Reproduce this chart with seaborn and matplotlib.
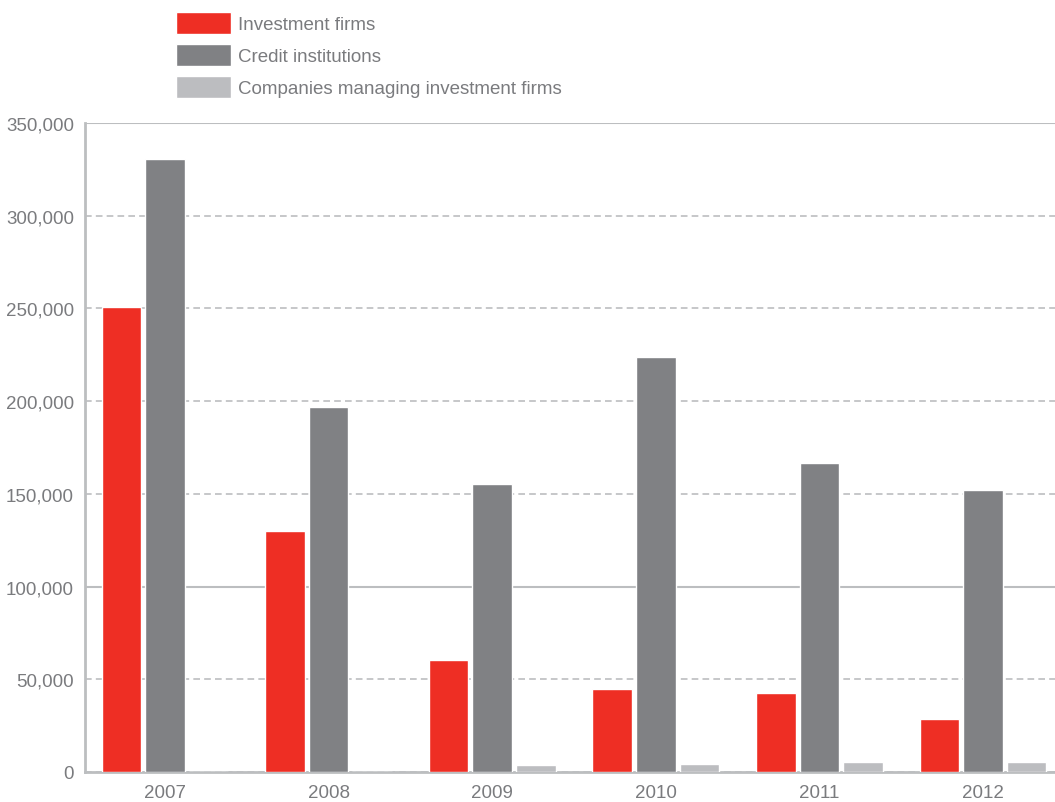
import matplotlib
matplotlib.use('Agg')
import matplotlib.pyplot as plt
import seaborn as sns
import pandas as pd

# values
years = ['2007', '2008', '2009', '2010', '2011', '2012']
investment_firms = [251000, 130000, 60500, 44800, 42600, 28600]
credit_institutions = [330500, 197000, 155300, 223800, 166700, 152100]
managing_companies = [0, 0, 3800, 4300, 5400, 5400]
series_names = ['Investment firms', 'Credit institutions', 'Companies managing investment firms']
colors = ['#ee2e24', '#808184', '#bcbdc0']
yticks = [0, 50000, 100000, 150000, 200000, 250000, 300000, 350000]

df = pd.DataFrame({
    'year': years * 3,
    'value': investment_firms + credit_institutions + managing_companies,
    'series': [s for s in series_names for _ in years],
})

sns.set_style('white')
plt.rcParams['font.family'] = ['Liberation Sans', 'DejaVu Sans']
text_color = '#7a7b7e'
grid_color = '#bcbec0'
fs = 13.5

fig = plt.figure(figsize=(10.55, 8.03), dpi=100)
ax = fig.add_axes([85 / 1055, 1 - 773 / 803, 1 - 85 / 1055, (773 - 124) / 803])

sns.barplot(data=df, x='year', y='value', hue='series', hue_order=series_names,
            palette=dict(zip(series_names, colors)), width=0.8, gap=0.09,
            saturation=1, ax=ax, zorder=3)

ax.set_xlim(-0.489, 5.44)
ax.set_ylim(0, 350000)
ax.set_yticks(yticks)
ax.set_yticklabels([f'{v:,}' for v in yticks])
ax.set_xlabel('')
ax.set_ylabel('')

# horizontal gridlines: dashed, except 100,000 and 350,000 solid
ax.yaxis.grid(True, color=grid_color, linestyle=(0, (4, 2.5)), linewidth=1.2, zorder=0)
ax.set_axisbelow(True)
for tick_val, gl in zip(yticks, ax.yaxis.get_gridlines()):
    if tick_val in (100000, 350000):
        gl.set_linestyle('-')
        gl.set_linewidth(1.5)

for side in ['top', 'right']:
    ax.spines[side].set_visible(False)
for side in ['left', 'bottom']:
    ax.spines[side].set_color(grid_color)
    ax.spines[side].set_linewidth(2)

# group separator marks on the baseline
ax.set_xticks([i + 0.5 for i in range(len(years) - 1)], minor=True)
ax.tick_params(axis='x', which='minor', direction='in', length=16, width=1.5, color=grid_color)
ax.tick_params(axis='x', which='major', length=0, pad=9, labelsize=fs, labelcolor=text_color)
ax.tick_params(axis='y', length=0, pad=8, labelsize=fs, labelcolor=text_color)

handles, labels = ax.get_legend_handles_labels()
ax.legend(handles, labels, loc='upper left', bbox_to_anchor=(176 / 1055, 1 - 13 / 803),
          bbox_transform=fig.transFigure, frameon=False, borderpad=0, borderaxespad=0,
          handlelength=2.93, handleheight=1.45, handletextpad=0.38, labelspacing=0.52,
          fontsize=fs, labelcolor=text_color)

plt.savefig('out.png', dpi=100)
